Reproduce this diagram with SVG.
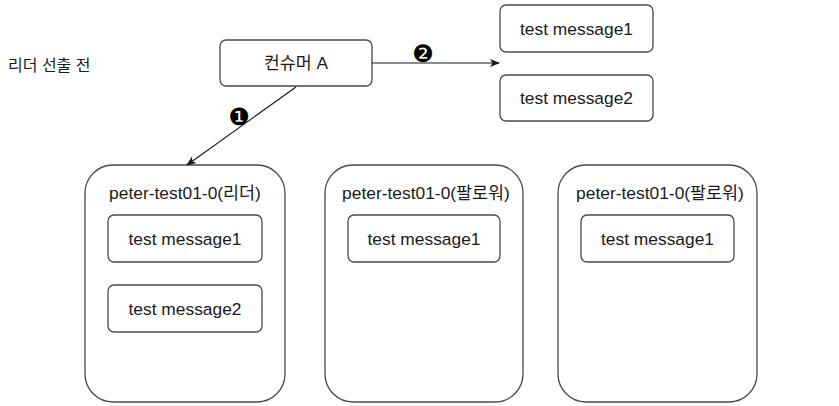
<svg xmlns="http://www.w3.org/2000/svg" width="839" height="406" viewBox="0 0 839 406">
  <style>
    .box { fill: #ffffff; stroke: #4a4a4a; stroke-width: 1.3; }
    .txt { font-family: "Liberation Sans", "Noto Sans CJK KR", sans-serif; font-size: 17.4px; fill: #1a1a1a; text-anchor: middle; dominant-baseline: central; }
    .edge { fill: none; stroke: #1a1a1a; stroke-width: 1.2; }
    .num { font-family: "DejaVu Sans", sans-serif; font-size: 24px; fill: #000; text-anchor: middle; dominant-baseline: central; }
  </style>
  <defs>
    <marker id="arrow" viewBox="0 0 10 10" refX="9" refY="5" markerWidth="10" markerHeight="10" markerUnits="userSpaceOnUse" orient="auto">
      <path d="M0,1 L10,5 L0,9 L2.5,5 Z" fill="#1a1a1a"/>
    </marker>
  </defs>
  <rect width="839" height="406" fill="#ffffff"/>

  <text class="txt" x="8" y="65" style="text-anchor:start;font-size:16px">리더 선출 전</text>

  <g id="consumer-a">
    <rect class="box" x="220" y="40" width="152" height="46" rx="6"/>
    <text class="txt" x="296" y="63">컨슈머 A</text>
  </g>

  <g id="fetched-message1">
    <rect class="box" x="500" y="5" width="153" height="47" rx="6"/>
    <text class="txt" x="576.5" y="28.5">test message1</text>
  </g>
  <g id="fetched-message2">
    <rect class="box" x="500" y="75" width="153" height="46" rx="6"/>
    <text class="txt" x="576.5" y="98">test message2</text>
  </g>

  <g id="partition-leader">
    <rect class="box" x="85" y="165" width="200" height="237" rx="28"/>
    <text class="txt" x="185" y="193">peter-test01-0(리더)</text>
    <g id="leader-message1">
      <rect class="box" x="108" y="215" width="154" height="47" rx="6"/>
      <text class="txt" x="185" y="238.5">test message1</text>
    </g>
    <g id="leader-message2">
      <rect class="box" x="108" y="285" width="154" height="47" rx="6"/>
      <text class="txt" x="185" y="308.5">test message2</text>
    </g>
  </g>

  <g id="partition-follower1">
    <rect class="box" x="325" y="165" width="198" height="237" rx="28"/>
    <text class="txt" x="426" y="193">peter-test01-0(팔로워)</text>
    <g id="follower1-message1">
      <rect class="box" x="348" y="215" width="152" height="47" rx="6"/>
      <text class="txt" x="424" y="238.5">test message1</text>
    </g>
  </g>

  <g id="partition-follower2">
    <rect class="box" x="558" y="165" width="199" height="237" rx="28"/>
    <text class="txt" x="660" y="193">peter-test01-0(팔로워)</text>
    <g id="follower2-message1">
      <rect class="box" x="581" y="215" width="153" height="47" rx="6"/>
      <text class="txt" x="657.5" y="238.5">test message1</text>
    </g>
  </g>

  <g id="connectors">
    <line class="edge" x1="296" y1="87" x2="187" y2="165" marker-end="url(#arrow)"/>
    <text class="num" x="239" y="117">❶</text>
    <line class="edge" x1="372" y1="63" x2="499" y2="63" marker-end="url(#arrow)"/>
    <text class="num" x="423" y="54">❷</text>
  </g>
</svg>
